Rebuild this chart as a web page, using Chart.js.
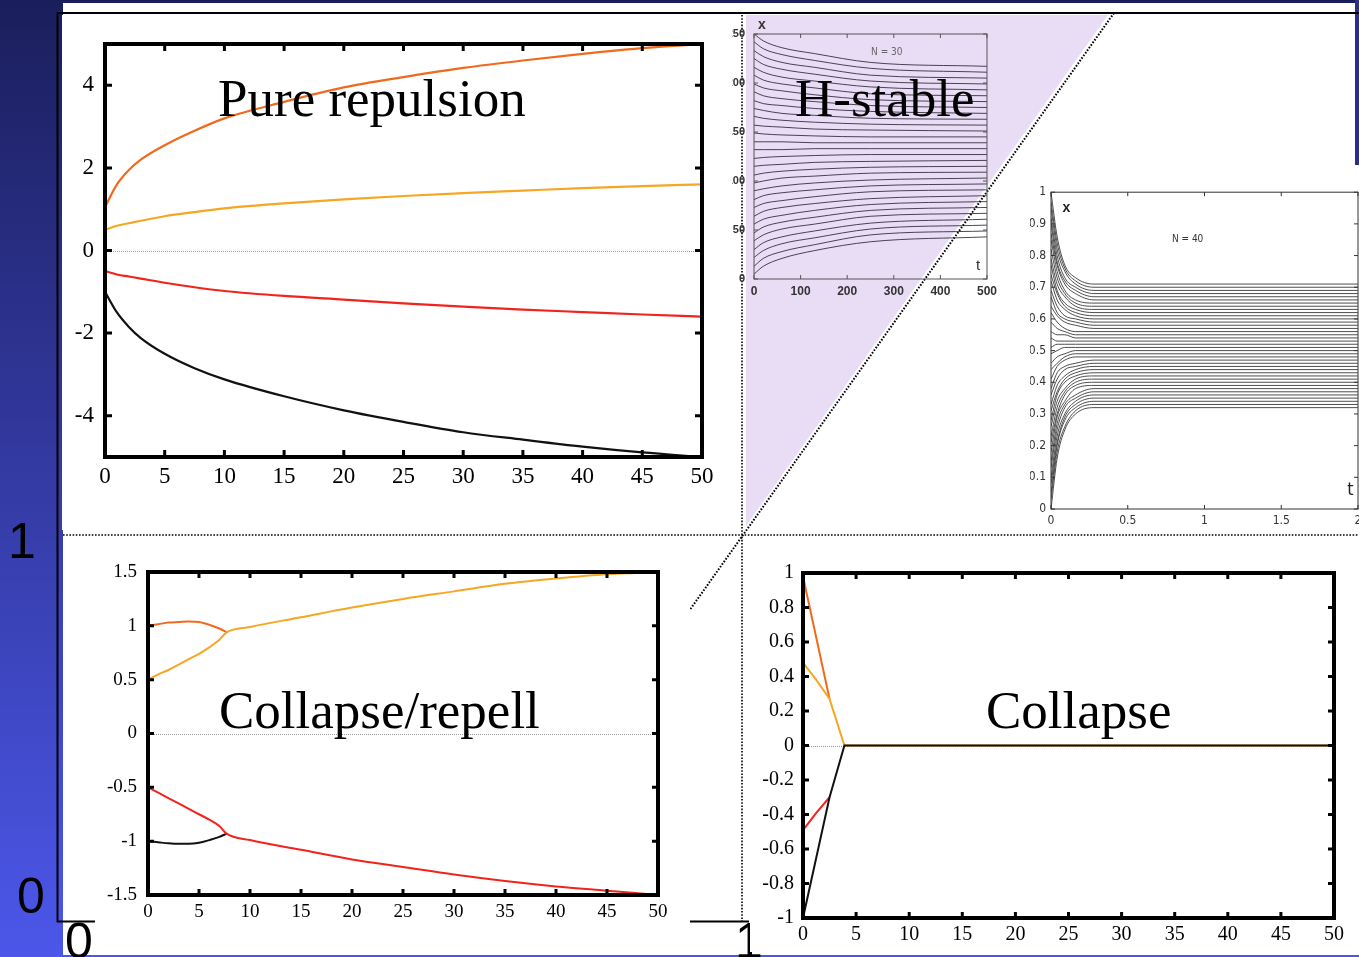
<!DOCTYPE html>
<html>
<head>
<meta charset="utf-8">
<title>Pure repulsion / H-stable / Collapse</title>
<script src="https://cdn.jsdelivr.net/npm/chart.js@4.4.1/dist/chart.umd.min.js"></script>
<style>
  html, body { margin: 0; padding: 0; }
  body { width: 1359px; height: 957px; position: relative; overflow: hidden;
         background: linear-gradient(#1b1e5c, #4c57ea); }
  #sheet { position: absolute; left: 63px; top: 3px; width: 1296px; height: 952px; background: #fff; }
  #edge { position: absolute; left: 1355px; top: 0; width: 4px; height: 165px; background: #2a2f8a; }
  svg, canvas { position: absolute; }
  #under, #over { left: 0; top: 0; }
  #over { pointer-events: none; }
  #pure { left: 62px; top: 15px; }
  #repell { left: 95px; top: 545px; }
  #collapse { left: 750px; top: 545px; }
  #hstable { left: 732px; top: 14px; }
  #n40 { left: 1030px; top: 180px; }
</style>
</head>
<body>
<div id="sheet"></div>
<div id="edge"></div>
<svg id="under" width="1359" height="957">
  <polygon points="746,15 1108,15 746,526" fill="#e9ddf5"/>
  <path d="M57,13 H1359 M57.5,13 V922 M57,921.5 H749" stroke="#000" stroke-width="2" fill="none"/>
  <g stroke="#000" stroke-width="1.6" stroke-dasharray="1.6 1.6" fill="none">
    <path d="M63,535 H1359"/>
    <path d="M742,15 V921"/>
    <path d="M1114,13 L640,680" stroke-width="2"/>
  </g>
  <g font-family="Liberation Sans, Arial, sans-serif" font-size="50" fill="#000">
    <text x="8" y="558">1</text>
    <text x="17" y="913">0</text>
    <text x="65" y="958">0</text>
    <text x="735" y="958">1</text>
  </g>
</svg>
<canvas id="pure" width="678" height="515"></canvas>
<canvas id="repell" width="595" height="407"></canvas>
<canvas id="collapse" width="609" height="407"></canvas>
<canvas id="hstable" width="270" height="290"></canvas>
<canvas id="n40" width="340" height="350"></canvas>
<svg id="over" width="1359" height="957">
  <g font-family="Liberation Serif, Times New Roman, serif" font-size="53" fill="#000">
    <text x="218" y="116">Pure repulsion</text>
    <text x="795" y="116">H-stable</text>
    <text x="219" y="728">Collapse/repell</text>
    <text x="986" y="728">Collapse</text>
  </g>
</svg>
<script>
// pure repulsion
const pureT = [0, 1, 2, 3, 5, 7.5, 10, 15, 20, 25, 30, 35, 40, 45, 50];
const pureOrange = [1.05, 1.6, 1.95, 2.2, 2.55, 2.9, 3.2, 3.6, 3.95, 4.2, 4.42, 4.6, 4.76, 4.9, 5.0];
const pureYellow = [0.5, 0.6, 0.66, 0.72, 0.83, 0.93, 1.02, 1.14, 1.24, 1.32, 1.39, 1.45, 1.51, 1.56, 1.6];
const pureRed = [-0.5, -0.58, -0.63, -0.68, -0.78, -0.89, -0.98, -1.1, -1.19, -1.28, -1.36, -1.43, -1.49, -1.55, -1.6];
const pureBlack = [-1.0, -1.5, -1.85, -2.12, -2.5, -2.85, -3.12, -3.53, -3.87, -4.15, -4.4, -4.58, -4.75, -4.89, -5.0];
const pureXTicks = [0, 5, 10, 15, 20, 25, 30, 35, 40, 45, 50];
const pureYTicks = [-4, -2, 0, 2, 4];

// collapse / repell
const repSplitT = [0, 1, 2, 3, 4, 5, 6, 7, 7.7];
const repOrange = [1.0, 1.015, 1.03, 1.035, 1.04, 1.035, 1.01, 0.975, 0.94];
const repBlack = [-1.0, -1.01, -1.02, -1.025, -1.025, -1.015, -0.99, -0.96, -0.93];
const repT = [0, 1, 2, 3, 4, 5, 6, 7, 7.7, 10, 15, 20, 25, 30, 35, 40, 45, 50];
const repYellow = [0.5, 0.55, 0.59, 0.64, 0.69, 0.74, 0.8, 0.87, 0.94, 0.99, 1.08, 1.17, 1.25, 1.32, 1.39, 1.44, 1.48, 1.5];
const repRed = [-0.5, -0.55, -0.6, -0.65, -0.7, -0.75, -0.8, -0.86, -0.93, -0.99, -1.08, -1.17, -1.24, -1.31, -1.37, -1.42, -1.46, -1.5];
const repXTicks = [0, 5, 10, 15, 20, 25, 30, 35, 40, 45, 50];
const repYTicks = [-1.5, -1, -0.5, 0, 0.5, 1, 1.5];

// collapse
const colOrangeT = [0, 2.5];
const colOrange = [0.98, 0.27];
const colYellowT = [0, 1.25, 2.5, 3.9, 50];
const colYellow = [0.48, 0.38, 0.27, 0, 0];
const colRedT = [0, 1.25, 2.5];
const colRed = [-0.49, -0.39, -0.3];
const colBlackT = [0, 2.5, 3.9, 50];
const colBlack = [-1.0, -0.3, 0, 0];
const colXTicks = [0, 5, 10, 15, 20, 25, 30, 35, 40, 45, 50];
const colYTicks = [-1, -0.8, -0.6, -0.4, -0.2, 0, 0.2, 0.4, 0.6, 0.8, 1];

// H-stable inset, N = 30
const hsT = [0, 20, 60, 130, 250, 500];
const hsLines = [
  [250, 243, 236, 230, 221, 217], [242, 235, 229, 223, 215, 211], [233, 227, 221, 216, 208, 205],
  [225, 219, 214, 209, 202, 199], [216, 211, 206, 202, 196, 193], [208, 203, 199, 195, 189, 187],
  [199, 195, 192, 188, 183, 181], [191, 187, 184, 181, 177, 175], [182, 179, 177, 174, 171, 169],
  [174, 172, 169, 167, 164, 163], [166, 164, 162, 160, 158, 157], [157, 156, 155, 153, 152, 151],
  [149, 148, 147, 146, 145, 145], [140, 140, 140, 139, 139, 139], [132, 132, 132, 133, 133, 133],
  [123, 124, 125, 126, 127, 127], [115, 116, 117, 119, 120, 121], [106, 108, 110, 112, 114, 115],
  [98, 100, 103, 105, 108, 109], [90, 92, 95, 98, 101, 103], [81, 85, 88, 91, 95, 97],
  [73, 77, 80, 84, 89, 91], [64, 69, 73, 77, 82, 85], [56, 61, 65, 70, 76, 79],
  [47, 53, 58, 63, 70, 73], [39, 45, 51, 56, 64, 67], [30, 37, 43, 49, 57, 61],
  [22, 29, 36, 42, 51, 55], [13, 21, 28, 35, 45, 49], [5, 13, 21, 29, 38, 43]
];
const hsXTicks = [0, 100, 200, 300, 400, 500];
const hsYTicks = [0, 50, 100, 150, 200, 250];

// N = 40 inset
const n40T = [0, 0.04, 0.09, 0.16, 0.28, 2];
const n40Lines = [
  [1.00, 0.86, 0.77, 0.73, 0.71, 0.71], [0.97, 0.84, 0.76, 0.72, 0.70, 0.70], [0.95, 0.82, 0.75, 0.71, 0.69, 0.69],
  [0.92, 0.80, 0.73, 0.70, 0.68, 0.68], [0.90, 0.78, 0.72, 0.69, 0.67, 0.67], [0.87, 0.77, 0.71, 0.68, 0.66, 0.66],
  [0.85, 0.75, 0.69, 0.66, 0.65, 0.65], [0.82, 0.73, 0.68, 0.65, 0.64, 0.64], [0.79, 0.71, 0.67, 0.64, 0.63, 0.63],
  [0.77, 0.69, 0.65, 0.63, 0.62, 0.62], [0.74, 0.68, 0.64, 0.62, 0.61, 0.61], [0.72, 0.66, 0.63, 0.61, 0.60, 0.60],
  [0.69, 0.64, 0.61, 0.60, 0.59, 0.59], [0.67, 0.62, 0.60, 0.59, 0.58, 0.58], [0.64, 0.61, 0.59, 0.58, 0.57, 0.57],
  [0.62, 0.59, 0.57, 0.56, 0.56, 0.56], [0.59, 0.57, 0.56, 0.55, 0.55, 0.55], [0.56, 0.55, 0.55, 0.54, 0.54, 0.54],
  [0.54, 0.53, 0.53, 0.53, 0.53, 0.53], [0.51, 0.52, 0.52, 0.52, 0.52, 0.52], [0.49, 0.50, 0.51, 0.51, 0.51, 0.51],
  [0.46, 0.48, 0.49, 0.50, 0.50, 0.50], [0.44, 0.46, 0.48, 0.49, 0.49, 0.49], [0.41, 0.45, 0.47, 0.48, 0.48, 0.48],
  [0.38, 0.43, 0.45, 0.46, 0.47, 0.47], [0.36, 0.41, 0.44, 0.45, 0.46, 0.46], [0.33, 0.39, 0.42, 0.44, 0.45, 0.45],
  [0.31, 0.37, 0.41, 0.43, 0.44, 0.44], [0.28, 0.36, 0.40, 0.42, 0.43, 0.43], [0.26, 0.34, 0.38, 0.41, 0.42, 0.42],
  [0.23, 0.32, 0.37, 0.40, 0.41, 0.41], [0.21, 0.30, 0.36, 0.39, 0.40, 0.40], [0.18, 0.29, 0.34, 0.38, 0.39, 0.39],
  [0.15, 0.27, 0.33, 0.36, 0.38, 0.38], [0.13, 0.25, 0.32, 0.35, 0.37, 0.37], [0.10, 0.23, 0.30, 0.34, 0.36, 0.36],
  [0.08, 0.21, 0.29, 0.33, 0.35, 0.35], [0.05, 0.20, 0.28, 0.32, 0.34, 0.34], [0.03, 0.18, 0.26, 0.31, 0.33, 0.33],
  [0.00, 0.16, 0.25, 0.30, 0.32, 0.32]
];
const n40XTicks = [0, 0.5, 1, 1.5, 2];
const n40YTicks = [0, 0.1, 0.2, 0.3, 0.4, 0.5, 0.6, 0.7, 0.8, 0.9, 1];

const ORANGE = "#f06a1e", YELLOW = "#f6a623", RED = "#f2231c", BLACK = "#111";
const SERIF = "Liberation Serif, Times New Roman, serif";
const SANS = "Liberation Sans, Arial, sans-serif";
const NARROW = "Liberation Sans Narrow, DejaVu Sans Condensed, Liberation Sans, sans-serif";

const pts = (xs, ys) => xs.map((x, i) => ({ x, y: ys[i] }));

// box, inward ticks, zero line and small notes, like gnuplot / matlab output
const framePlugin = {
  id: "frame",
  beforeDraw(chart, args, o) {
    if (!o.background) return;
    const ctx = chart.ctx;
    ctx.save();
    ctx.fillStyle = o.background;
    ctx.fillRect(0, 0, chart.width, chart.height);
    ctx.restore();
  },
  beforeDatasetsDraw(chart, args, o) {
    if (!o.zeroLine) return;
    const { ctx, chartArea: a, scales: { y } } = chart;
    const py = Math.round(y.getPixelForValue(0)) + 0.5;
    ctx.save();
    ctx.strokeStyle = "#9a9a9a";
    ctx.lineWidth = 1;
    ctx.setLineDash([1, 1]);
    ctx.beginPath();
    ctx.moveTo(a.left, py);
    ctx.lineTo(a.right, py);
    ctx.stroke();
    ctx.restore();
  },
  afterDraw(chart, args, o) {
    const { ctx, chartArea: a, scales: { x, y } } = chart;
    ctx.save();
    ctx.strokeStyle = o.color;
    ctx.lineWidth = o.tickWidth;
    ctx.beginPath();
    x.ticks.forEach(t => {
      const px = x.getPixelForValue(t.value);
      ctx.moveTo(px, a.bottom); ctx.lineTo(px, a.bottom - o.tickLen);
      ctx.moveTo(px, a.top); ctx.lineTo(px, a.top + o.tickLen);
    });
    y.ticks.forEach(t => {
      const py = y.getPixelForValue(t.value);
      ctx.moveTo(a.left, py); ctx.lineTo(a.left + o.tickLen, py);
      ctx.moveTo(a.right, py); ctx.lineTo(a.right - o.tickLen, py);
    });
    ctx.stroke();
    ctx.lineWidth = o.width;
    ctx.strokeRect(a.left, a.top, a.right - a.left, a.bottom - a.top);
    (o.notes || []).forEach(n => {
      ctx.font = n.font;
      ctx.fillStyle = n.color || "#000";
      ctx.textAlign = "center";
      ctx.textBaseline = "middle";
      ctx.fillText(n.text, x.getPixelForValue(n.x), y.getPixelForValue(n.y));
    });
    ctx.restore();
  }
};

function axis(a) {
  return {
    type: "linear",
    min: a.min,
    max: a.max,
    grid: { display: false, drawTicks: false },
    border: { display: false },
    ticks: {
      autoSkip: false, maxRotation: 0, minRotation: 0,
      padding: a.pad, font: a.font, color: a.color || "#000",
      callback: v => String(v)
    },
    afterBuildTicks: s => { s.ticks = a.ticks.map(v => ({ value: v })); },
    afterFit: s => { if (s.isHorizontal()) s.height = a.size; else s.width = a.size; }
  };
}

function plot(id, cfg) {
  return new Chart(document.getElementById(id), {
    type: "line",
    data: { datasets: cfg.datasets },
    options: {
      responsive: false,
      animation: false,
      events: [],
      layout: { padding: { top: cfg.pad[0], right: cfg.pad[1], bottom: 0, left: 0 } },
      elements: {
        point: { radius: 0 },
        line: { borderWidth: cfg.lineWidth, tension: 0, cubicInterpolationMode: cfg.smooth ? "monotone" : "default" }
      },
      plugins: { legend: { display: false }, tooltip: { enabled: false }, frame: cfg.frame },
      scales: { x: axis(cfg.x), y: axis(cfg.y) }
    },
    plugins: [framePlugin]
  });
}

const line = (xs, ys, color) => ({ data: pts(xs, ys), borderColor: color });

plot("pure", {
  pad: [29, 38], lineWidth: 2.2, smooth: true,
  datasets: [
    line(pureT, pureOrange, ORANGE), line(pureT, pureYellow, YELLOW),
    line(pureT, pureRed, RED), line(pureT, pureBlack, BLACK)
  ],
  x: { min: 0, max: 50, ticks: pureXTicks, size: 73, pad: 6, font: { family: SERIF, size: 23 } },
  y: { min: -5, max: 5, ticks: pureYTicks, size: 43, pad: 11, font: { family: SERIF, size: 23 } },
  frame: { background: "#fff", zeroLine: true, color: "#000", width: 4, tickWidth: 3, tickLen: 7 }
});

plot("repell", {
  pad: [27, 32], lineWidth: 2, smooth: true,
  datasets: [
    line(repT, repYellow, YELLOW), line(repT, repRed, RED),
    line(repSplitT, repOrange, ORANGE), line(repSplitT, repBlack, BLACK)
  ],
  x: { min: 0, max: 50, ticks: repXTicks, size: 57, pad: 6, font: { family: SERIF, size: 19 } },
  y: { min: -1.5, max: 1.5, ticks: repYTicks, size: 53, pad: 11, font: { family: SERIF, size: 19 } },
  frame: { background: "#fff", zeroLine: true, color: "#000", width: 4, tickWidth: 3, tickLen: 6 }
});

plot("collapse", {
  pad: [28, 25], lineWidth: 2, smooth: false,
  datasets: [
    line(colBlackT, colBlack, BLACK), line(colRedT, colRed, RED),
    line(colYellowT, colYellow, YELLOW), line(colOrangeT, colOrange, ORANGE)
  ],
  x: { min: 0, max: 50, ticks: colXTicks, size: 34, pad: 5, font: { family: SERIF, size: 20 } },
  y: { min: -1, max: 1, ticks: colYTicks, size: 53, pad: 9, font: { family: SERIF, size: 20 } },
  frame: { background: "#fff", zeroLine: true, color: "#000", width: 4, tickWidth: 3, tickLen: 6 }
});

plot("hstable", {
  pad: [20, 15], lineWidth: 1, smooth: true,
  datasets: hsLines.map(v => line(hsT, v, "rgba(35,25,45,0.8)")),
  x: { min: 0, max: 500, ticks: hsXTicks, size: 25, pad: 5, color: "#333", font: { family: SANS, size: 12, weight: "bold" } },
  y: { min: 0, max: 250, ticks: hsYTicks, size: 22, pad: 9, color: "#333", font: { family: SANS, size: 11, weight: "bold" } },
  frame: {
    color: "#555", width: 1, tickWidth: 1, tickLen: 4,
    notes: [
      { text: "x", x: 17, y: 259, font: "bold 14px " + SANS, color: "#333" },
      { text: "N = 30", x: 285, y: 231, font: "10px " + NARROW, color: "#666" },
      { text: "t", x: 481, y: 13, font: "15px " + SANS, color: "#333" }
    ]
  }
});

plot("n40", {
  pad: [11, 12], lineWidth: 0.9, smooth: true,
  datasets: n40Lines.map(v => line(n40T, v, "#3a3a3a")),
  x: { min: 0, max: 2, ticks: n40XTicks, size: 21, pad: 5, color: "#333", font: { family: NARROW, size: 12 } },
  y: { min: 0, max: 1, ticks: n40YTicks, size: 21, pad: 5, color: "#333", font: { family: NARROW, size: 12 } },
  frame: {
    color: "#333", width: 1, tickWidth: 1, tickLen: 4,
    notes: [
      { text: "x", x: 0.1, y: 0.95, font: "bold 14px " + SANS, color: "#222" },
      { text: "N = 40", x: 0.89, y: 0.85, font: "10px " + NARROW, color: "#333" },
      { text: "t", x: 1.95, y: 0.06, font: "18px " + NARROW, color: "#222" }
    ]
  }
});
</script>
</body>
</html>
